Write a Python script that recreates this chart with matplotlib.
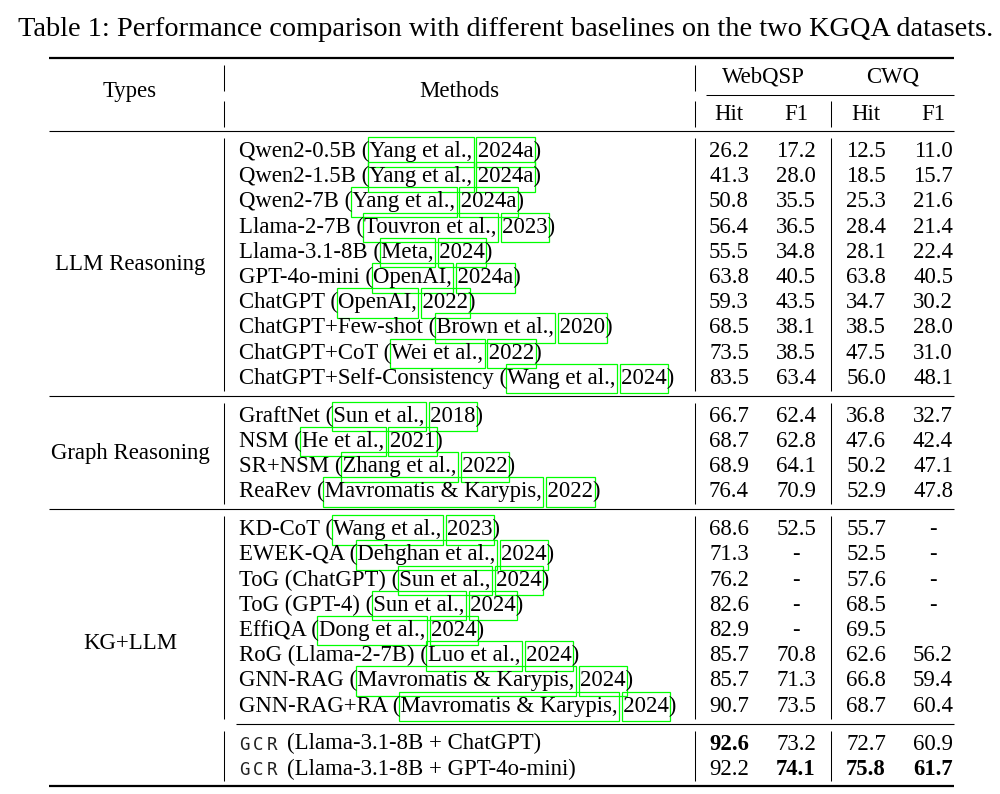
import matplotlib
matplotlib.use("Agg")
import matplotlib.pyplot as plt
from matplotlib.patches import Rectangle

# Contenu du tableau
titre = "Table 1: Performance comparison with different baselines on the two KGQA datasets."
types = ["LLM Reasoning", "Graph Reasoning", "KG+LLM"]
types_lignes = [10, 4, 10]  # lignes couvertes par chaque type (multirow)
blocs = [10, 4, 8, 2]       # nombre de lignes dans chaque bloc
jeux = ["WebQSP", "CWQ"]
metriques = ["Hit", "F1", "Hit", "F1"]

methodes = ["Qwen2-0.5B", "Qwen2-1.5B", "Qwen2-7B", "Llama-2-7B", "Llama-3.1-8B",
            "GPT-4o-mini", "ChatGPT", "ChatGPT+Few-shot", "ChatGPT+CoT",
            "ChatGPT+Self-Consistency",
            "GraftNet", "NSM", "SR+NSM", "ReaRev",
            "KD-CoT", "EWEK-QA", "ToG (ChatGPT)", "ToG (GPT-4)", "EffiQA",
            "RoG (Llama-2-7B)", "GNN-RAG", "GNN-RAG+RA",
            "GCR (Llama-3.1-8B + ChatGPT)", "GCR (Llama-3.1-8B + GPT-4o-mini)"]
auteurs = ["Yang et al.,", "Yang et al.,", "Yang et al.,", "Touvron et al.,", "Meta,",
           "OpenAI,", "OpenAI,", "Brown et al.,", "Wei et al.,", "Wang et al.,",
           "Sun et al.,", "He et al.,", "Zhang et al.,", "Mavromatis & Karypis,",
           "Wang et al.,", "Dehghan et al.,", "Sun et al.,", "Sun et al.,", "Dong et al.,",
           "Luo et al.,", "Mavromatis & Karypis,", "Mavromatis & Karypis,",
           "", ""]
annees = ["2024a", "2024a", "2024a", "2023", "2024", "2024a", "2022", "2020", "2022", "2024",
          "2018", "2021", "2022", "2022",
          "2023", "2024", "2024", "2024", "2024", "2024", "2024", "2024",
          "", ""]
webqsp_hit = ["26.2", "41.3", "50.8", "56.4", "55.5", "63.8", "59.3", "68.5", "73.5", "83.5",
              "66.7", "68.7", "68.9", "76.4",
              "68.6", "71.3", "76.2", "82.6", "82.9", "85.7", "85.7", "90.7",
              "92.6", "92.2"]
webqsp_f1 = ["17.2", "28.0", "35.5", "36.5", "34.8", "40.5", "43.5", "38.1", "38.5", "63.4",
             "62.4", "62.8", "64.1", "70.9",
             "52.5", "-", "-", "-", "-", "70.8", "71.3", "73.5",
             "73.2", "74.1"]
cwq_hit = ["12.5", "18.5", "25.3", "28.4", "28.1", "63.8", "34.7", "38.5", "47.5", "56.0",
           "36.8", "47.6", "50.2", "52.9",
           "55.7", "52.5", "57.6", "68.5", "69.5", "62.6", "66.8", "68.7",
           "72.7", "75.8"]
cwq_f1 = ["11.0", "15.7", "21.6", "21.4", "22.4", "40.5", "30.2", "28.0", "31.0", "48.1",
          "32.7", "42.4", "47.1", "47.8",
          "-", "-", "-", "-", "", "56.2", "59.4", "60.4",
          "60.9", "61.7"]
gras = [(22, 0), (23, 1), (23, 2), (23, 3)]  # (ligne, colonne) en gras

# Mise en page (pixels)
police = "Liberation Serif"
taille = 16.4
x_gauche, x_droite = 49, 954
x_types, x_meth = 130, 239
x_cols = [729, 796, 866, 933]
x_jeux = [763, 893]
x_vert = [224, 695]
x_sep = 831
pas, saut = 25.2, 12.7
base0 = 157

fig = plt.figure(figsize=(10, 7.94), dpi=100)
ax = fig.add_axes([0, 0, 1, 1])
ax.set_xlim(0, 1000)
ax.set_ylim(794, 0)
ax.axis('off')
rend = fig.canvas.get_renderer()


def largeur(s, **kw):
    t = ax.text(0, 0, s, **kw)
    w = t.get_window_extent(renderer=rend).width
    t.remove()
    return w


def trait(x0, x1, y, lw):
    ax.plot([x0, x1], [y, y], color='black', lw=lw, solid_capstyle='butt')


def vert(x, y0, y1):
    ax.plot([x, x], [y0, y1], color='black', lw=0.75, solid_capstyle='butt')


# Titre
ax.text(18, 36, titre, family=police, fontsize=20.45, va='baseline', ha='left')

# Lignes de base de chaque rangée
bases = []
i = 0
for b, n in enumerate(blocs):
    for k in range(n):
        bases.append(base0 + i * pas + b * saut)
        i += 1

# Entête
y_haut, y_mid = 58, 131
trait(x_gauche, x_droite, y_haut, 1.6)
ax.text(x_types, 97, "Types", family=police, fontsize=taille, ha='center', va='baseline')
ax.text(sum(x_vert) / 2, 97, "Methods", family=police, fontsize=taille, ha='center', va='baseline')
for x, j in zip(x_jeux, jeux):
    ax.text(x, 83, j, family=police, fontsize=taille, ha='center', va='baseline')
for x, m in zip(x_cols, metriques):
    ax.text(x, 120, m, family=police, fontsize=taille, ha='center', va='baseline')
trait(706, x_droite, 95, 0.75)
for x in x_vert:
    vert(x, 65, 91)
    vert(x, 101, 127)
vert(x_sep, 101, 127)
trait(x_gauche, x_droite, y_mid, 0.8)

# Séparateurs entre blocs
regles = [y_mid]
debut = 0
for b, n in enumerate(blocs[:-1]):
    fin = debut + n
    y = (bases[fin - 1] + bases[fin]) / 2 - 8.5 + 1.5
    regles.append(y)
    debut = fin
y_bas = bases[-1] + 11.5
regles.append(y_bas)
for b, y in enumerate(regles[1:-1]):
    if b == len(blocs) - 2:
        trait(236, x_droite, y, 0.8)
    else:
        trait(x_gauche, x_droite, y, 0.8)
trait(x_gauche, x_droite, y_bas, 1.6)

# Traits verticaux dans chaque bloc
for b in range(len(blocs)):
    y0 = regles[b] + 7
    y1 = regles[b + 1] - 5
    for x in x_vert + [x_sep]:
        vert(x, y0, y1)

# Types (multirow)
debut = 0
for t, n, nb in zip(types, types_lignes, blocs):
    yc = bases[debut] + (n - 1) / 2 * pas
    ax.text(x_types, yc, t, family=police, fontsize=taille, ha='center', va='baseline')
    debut += nb

# Méthodes avec citations encadrées
vert_lien = '#00ff00'
for i, m in enumerate(methodes):
    y = bases[i]
    if m.startswith("GCR"):
        for k, c in enumerate("GCR"):
            ax.text(x_meth + k * 14, y, c, family="DejaVu Sans Mono", fontsize=12.6,
                    ha='left', va='baseline', color='#222222')
        ax.text(x_meth + 48, y, m[4:], family=police, fontsize=taille, ha='left', va='baseline')
        continue
    prefixe = m + " ("
    ligne = prefixe + auteurs[i] + " " + annees[i] + ")"
    ax.text(x_meth, y, ligne, family=police, fontsize=taille, ha='left', va='baseline')
    a0 = x_meth + largeur(prefixe, family=police, fontsize=taille)
    a1 = x_meth + largeur(prefixe + auteurs[i], family=police, fontsize=taille)
    y1 = x_meth + largeur(prefixe + auteurs[i] + " " + annees[i], family=police, fontsize=taille)
    y0 = y1 - largeur(annees[i], family=police, fontsize=taille)
    for g, d in [(a0, a1), (y0, y1)]:
        ax.add_patch(Rectangle((g - 1.5, y - 20), d - g + 3, 29.5, fill=False,
                               ec=vert_lien, lw=0.9))

# Valeurs
colonnes = [webqsp_hit, webqsp_f1, cwq_hit, cwq_f1]
for c, (x, col) in enumerate(zip(x_cols, colonnes)):
    for i, v in enumerate(col):
        poids = 'bold' if (i, c) in gras else 'normal'
        ax.text(x, bases[i], v, family=police, fontsize=taille, ha='center',
                va='baseline', fontweight=poids)

fig.savefig("out.png", dpi=100, facecolor='white')
